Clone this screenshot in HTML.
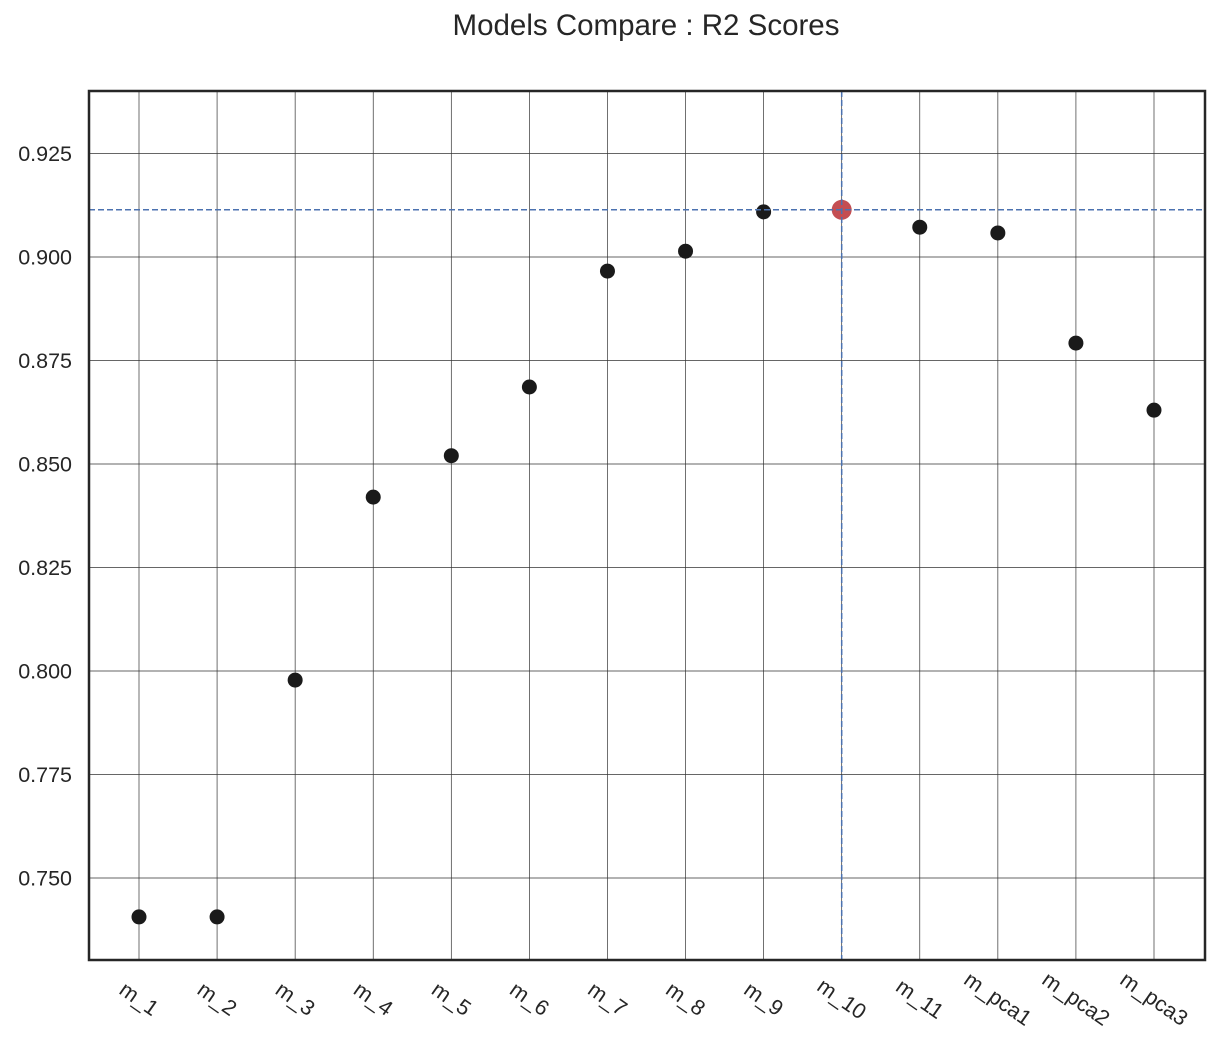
<!DOCTYPE html>
<html><head><meta charset="utf-8"><style>
body{margin:0;background:#fff;}
svg text{font-family:"Liberation Sans",Arial,sans-serif;fill:#262626;}
</style></head><body>
<svg id="chart" width="1218" height="1051" xmlns="http://www.w3.org/2000/svg">
<text x="646" y="35" font-size="29.5" text-anchor="middle">Models Compare : R2 Scores</text>
<g id="grid"></g>
<g id="marks"></g>
<g id="ticks"></g>
<rect x="89" y="91" width="1116" height="869" fill="none" stroke="#262626" stroke-width="2.5"/>
</svg>
<script>
const categories=["m_1","m_2","m_3","m_4","m_5","m_6","m_7","m_8","m_9","m_10","m_11","m_pca1","m_pca2","m_pca3"];
const scores=[0.7406,0.7406,0.7978,0.842,0.852,0.8686,0.8966,0.9014,0.9109,0.9114,0.9072,0.9058,0.8792,0.863];
const yTicks=[0.750,0.775,0.800,0.825,0.850,0.875,0.900,0.925];
const NS="http://www.w3.org/2000/svg";
const xs=i=>139+i*(1154-139)/13;
const ys=v=>257+(0.9-v)/0.025*103.5;
function mk(t,a,p){const e=document.createElementNS(NS,t);for(const k in a)e.setAttribute(k,a[k]);p.appendChild(e);return e;}
const grid=document.getElementById('grid'),marks=document.getElementById('marks'),ticks=document.getElementById('ticks');
yTicks.forEach(v=>{
 const l=mk('line',{x1:89,x2:1205,y1:ys(v),y2:ys(v),stroke:'#333','stroke-width':0.7},grid);
 
 
 const t=mk('text',{x:72,y:ys(v)+7.5,'font-size':21.5,'text-anchor':'end'},ticks);
 t.textContent=v.toFixed(3);
 
 
});
categories.forEach((c,i)=>{
 const l=mk('line',{x1:xs(i),x2:xs(i),y1:91,y2:960,stroke:'#333','stroke-width':0.7},grid);
 
 
 const t=mk('text',{x:xs(i),y:1006,'font-size':21.5,'text-anchor':'middle',transform:`rotate(35 ${xs(i)} 999)`},ticks);
 t.textContent=c;
 
 
});
let best=0;scores.forEach((v,i)=>{if(v>scores[best])best=i;});
scores.forEach((v,i)=>{
 const isBest=i===best;
 const d=mk('circle',{cx:xs(i),cy:ys(v),r:isBest?10:7.5,fill:isBest?'#c44e52':'#1a1a1a'},marks);
 
 
});
const h=mk('line',{x1:89,x2:1205,y1:ys(scores[best]),y2:ys(scores[best]),stroke:'#4c72b0','stroke-width':1.5,'stroke-dasharray':'6 3'},marks);


const vl=mk('line',{x1:xs(best),x2:xs(best),y1:91,y2:960,stroke:'#4c72b0','stroke-width':1.5,'stroke-dasharray':'6 3'},marks);


</script>
</body></html>
